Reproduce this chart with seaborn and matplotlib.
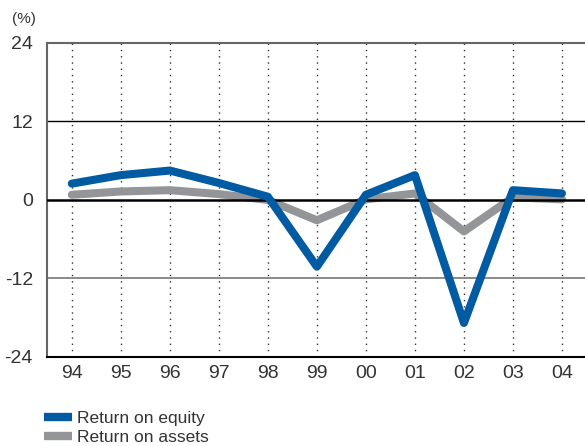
import pandas as pd
import numpy as np
import seaborn as sns
import matplotlib.pyplot as plt
from matplotlib.lines import Line2D

# Data
years = ['94', '95', '96', '97', '98', '99', '00', '01', '02', '03', '04']
roe = [2.5, 3.8, 4.5, 2.6, 0.5, -10.2, 0.8, 3.8, -18.8, 1.5, 1.0]
roa = [0.8, 1.3, 1.5, 0.9, 0.0, -3.1, 0.1, 1.0, -4.8, 0.4, 0.1]
yticks = [-24, -12, 0, 12, 24]

blue = '#005ba3'
grey = '#939598'

sns.set_style('white')
plt.rcParams['font.family'] = ['Liberation Sans', 'DejaVu Sans']
plt.rcParams['axes.unicode_minus'] = False

df = pd.DataFrame({
    'x': list(range(len(years))) * 2,
    'value': roe + roa,
    'series': ['Return on equity'] * len(years) + ['Return on assets'] * len(years),
})

fig = plt.figure(figsize=(5.85, 4.46), dpi=100)
ax = fig.add_axes([0.080, 0.1996, 0.92, 0.704])

# vertical dotted lines
for i in range(len(years)):
    ax.axvline(i, color='#333333', linestyle=(0, (1, 3.5)), linewidth=1, zorder=1)

ax.axhline(12, color='black', linewidth=1, zorder=1)
ax.axhline(-12, color='#777777', linewidth=1.2, zorder=1)

sns.lineplot(data=df[df['series'] == 'Return on assets'], x='x', y='value',
             color=grey, linewidth=5.8, ax=ax, zorder=2, legend=False)
ax.axhline(0, color='black', linewidth=1.8, zorder=3)
sns.lineplot(data=df[df['series'] == 'Return on equity'], x='x', y='value',
             color=blue, linewidth=5.8, ax=ax, zorder=4, legend=False)

ax.set_xlim(-0.51, 10.47)
ax.set_ylim(-24, 24)
ax.set_xticks(range(len(years)))
ax.set_xticklabels(years)
ax.set_yticks(yticks)
ax.set_xlabel('')
ax.set_ylabel('')
ax.tick_params(axis='both', length=0, labelsize=14, colors='#333333', pad=6)
ax.tick_params(axis='y', pad=10)

ax.spines['right'].set_visible(False)
ax.spines['top'].set_color('#666666')
ax.spines['top'].set_linewidth(1.5)
ax.spines['left'].set_color('#666666')
ax.spines['left'].set_linewidth(1.5)
ax.spines['bottom'].set_color('black')
ax.spines['bottom'].set_linewidth(1.5)

fig.text(0.02, 0.958, '(%)', fontsize=11, color='#333333', va='center')

handles = [Line2D([0], [0], color=blue, linewidth=6, solid_capstyle='butt'),
           Line2D([0], [0], color=grey, linewidth=6, solid_capstyle='butt')]
fig.legend(handles, ['Return on equity', 'Return on assets'], loc='upper left',
           bbox_to_anchor=(0.06, 0.098), frameon=False, fontsize=12.5,
           handlelength=1.6, handletextpad=0.3, labelspacing=0.2, borderpad=0,
           labelcolor='#333333')

fig.savefig('out.png', dpi=100)
